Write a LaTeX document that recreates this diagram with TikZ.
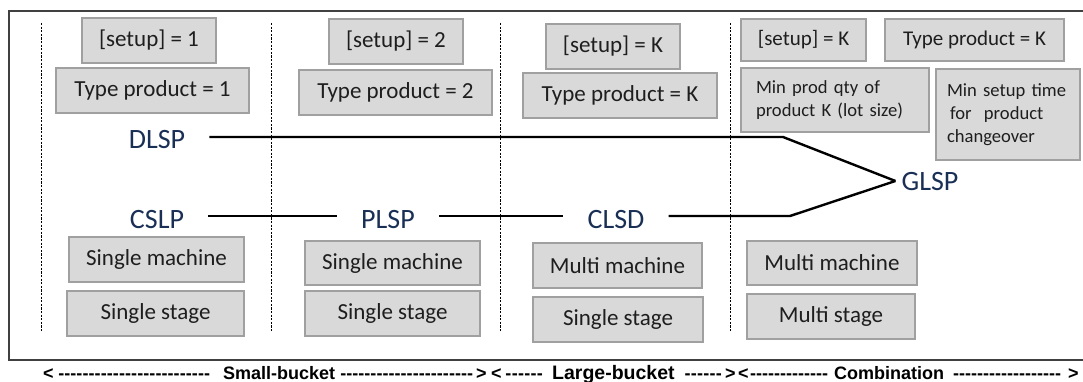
\documentclass[tikz,border=0pt]{standalone}
\usepackage{fontspec}
\setmainfont{Carlito}
\newfontfamily\barfont{Liberation Sans}
\definecolor{boxfill}{HTML}{D9D9D9}
\definecolor{boxline}{HTML}{A0A0A0}
\definecolor{boxtext}{HTML}{1E1E1E}
\definecolor{lbltext}{HTML}{1A2F55}
\definecolor{framecol}{HTML}{404040}
% a run of hyphens filling a given width
\newcommand\hyphenrun[1]{\makebox[#1]{\xleaders\hbox{-}\hfill}}
\tikzset{
  box/.style={draw=boxline, fill=boxfill, line width=1.6pt, text=boxtext,
    inner sep=0pt, font=\fontsize{23}{27}\selectfont},
  smallbox/.style={box, font=\fontsize{21}{25}\selectfont},
  notebox/.style={box, font=\fontsize{18.6}{23}\selectfont, align=left},
  model/.style={text=lbltext, font=\fontsize{28}{32}\selectfont,
    inner xsep=24pt, inner ysep=0pt, text height=24pt, text depth=0pt},
  conn/.style={line width=2.4pt, black},
  sep/.style={black, line width=0.9pt, dash pattern=on 2.2pt off 1.4pt},
  scaletxt/.style={anchor=base west, inner sep=0pt, text=black,
    font=\barfont\bfseries\fontsize{18}{22}\selectfont},
}
\begin{document}
\begin{tikzpicture}[x=1pt, y=-1pt]
\useasboundingbox (0,0) rectangle (1083,382);
\fill[white] (0,0) rectangle (1083,382);

% outer frame (runs past the right edge)
\draw[framecol, line width=1.5pt] (9,11) rectangle (1100,360);

% column separators
\foreach \x in {41,271,500,730}
  \draw[sep] (\x,23) -- (\x,332);

% column 1
\node[box, minimum width=134pt, minimum height=45pt] (su1) at (149,40.5) {[setup] = 1};
\node[box, minimum width=193pt, minimum height=45pt] (tp1) at (152.5,90.5) {Type product = 1};
\node[box, minimum width=175pt, minimum height=45pt] (sm1) at (156.5,259.5) {Single machine};
\node[box, minimum width=177pt, minimum height=45pt] (ss1) at (155.5,313.5) {Single stage};

% column 2
\node[box, minimum width=134pt, minimum height=45pt] (su2) at (396,41.5) {[setup] = 2};
\node[box, minimum width=193pt, minimum height=45pt] (tp2) at (395.5,92.5) {Type product = 2};
\node[box, minimum width=175pt, minimum height=44pt] (sm2) at (392.5,263) {Single machine};
\node[box, minimum width=175pt, minimum height=45pt] (ss2) at (392.5,313.5) {Single stage};

% column 3
\node[box, minimum width=134pt, minimum height=45pt] (su3) at (613,46.5) {[setup] = K};
\node[box, minimum width=194pt, minimum height=45pt] (tp3) at (620,95.5) {Type product = K};
\node[box, minimum width=169pt, minimum height=45pt] (mm3) at (617.5,265.5) {Multi machine};
\node[box, minimum width=170pt, minimum height=45pt] (ss3) at (618,319.5) {Single stage};

% column 4
\node[smallbox, minimum width=125pt, minimum height=42pt] (su4) at (803.5,40) {[setup] = K};
\node[smallbox, minimum width=179pt, minimum height=42pt] (tp4) at (974.5,40) {Type product = K};
\node[notebox, minimum height=64pt, text width=158pt, inner xsep=15pt] (lot) at (835,100)
  {Min prod qty of\\product K (lot size)};
\node[notebox, minimum height=91pt, text width=122pt, inner xsep=11pt] (chg) at (1008,114.5)
  {Min setup time\\\hspace*{3pt}for~~product\\changeover};
\node[box, minimum width=170pt, minimum height=44pt] (mm4) at (832,263) {Multi machine};
\node[box, minimum width=168pt, minimum height=45pt] (ms4) at (831,316.5) {Multi stage};

% lot-sizing models
\node[model] (dlsp) at (157,137) {DLSP};
\node[model] (cslp) at (157,216) {CSLP};
\node[model] (plsp) at (388,216) {PLSP};
\node[model] (clsd) at (616,216) {CLSD};
\node[model, inner xsep=6pt, text height=18pt] (glsp) at (930,181) {GLSP};

\coordinate (dbend) at (783,137);
\coordinate (cbend) at (790,216);

\draw[conn] (dlsp.east) -- (dbend) -- (glsp.west);
\draw[conn] (cslp.east) -- (plsp.west);
\draw[conn] (plsp.east) -- (clsd.west);
\draw[conn] (clsd.east) -- (cbend) -- (glsp.west);

% bucket classification along the bottom
\node[scaletxt] (lt1) at (43,379) {<};
\node[scaletxt] (dr1) at (58,379) {\hyphenrun{152pt}};
\node[scaletxt] (sb)  at (223,379) {Small-bucket};
\node[scaletxt] (dr2) at (340,379) {\hyphenrun{133pt}};
\node[scaletxt] (gt1) at (476,379) {>};
\node[scaletxt] (lt2) at (491,379) {<};
\node[scaletxt] (dr3) at (505,379) {\hyphenrun{38pt}};
\node[scaletxt] (lb) at (552,379) {\fontsize{19.5}{22}\selectfont Large-bucket};
\node[scaletxt] (dr4) at (684,379) {\hyphenrun{38pt}};
\node[scaletxt] (gt2) at (725,379) {>};
\node[scaletxt] (lt3) at (738,379) {<};
\node[scaletxt] (dr5) at (750,379) {\hyphenrun{78pt}};
\node[scaletxt] (cb)  at (834,379) {Combination};
\node[scaletxt] (dr6) at (953,379) {\hyphenrun{108pt}};
\node[scaletxt] (gt3) at (1068,379) {>};
\end{tikzpicture}
\end{document}
